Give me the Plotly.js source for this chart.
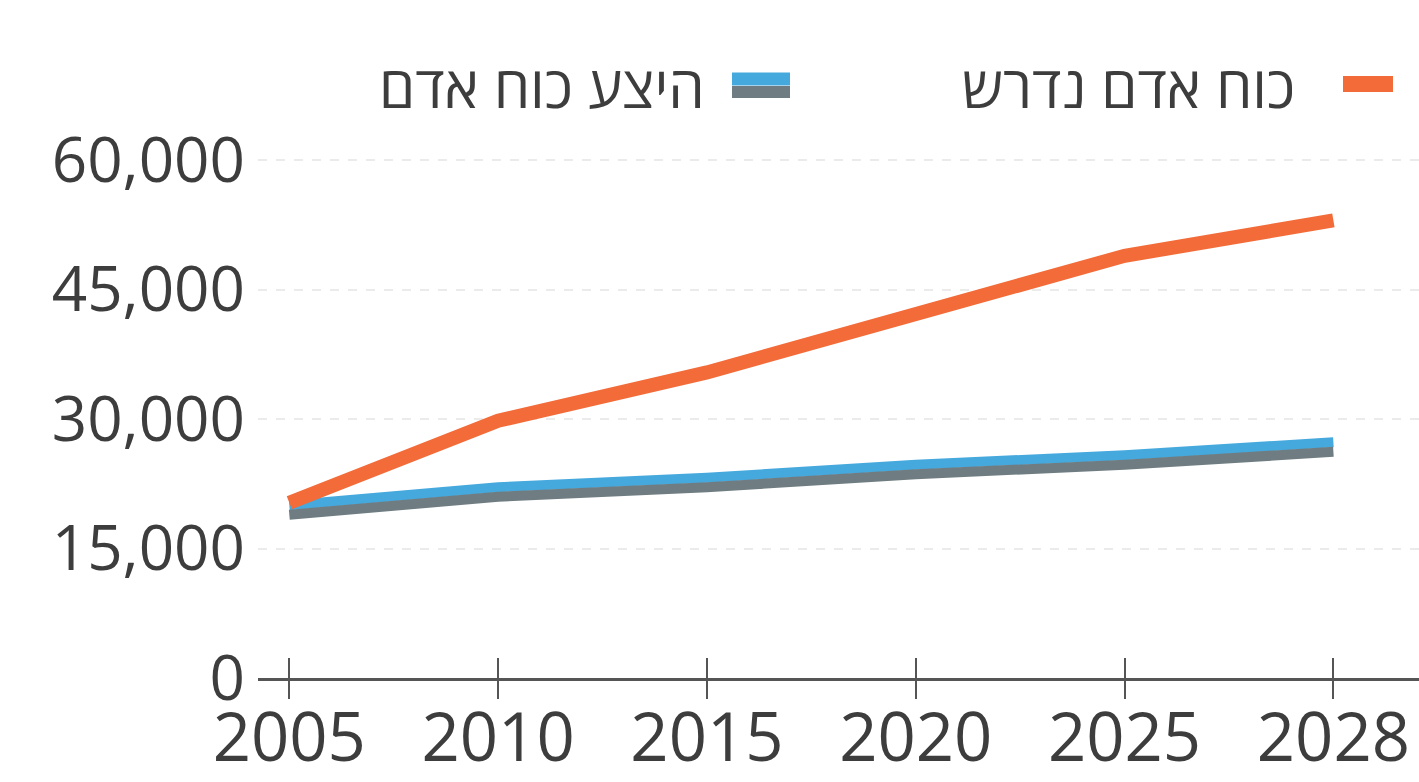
<!DOCTYPE html>
<html>
<head>
<meta charset="utf-8">
<script src="https://cdn.plot.ly/plotly-3.0.1.min.js"></script>
<style>html,body{margin:0;padding:0;background:#fff;}#chart{width:1419px;height:782px;}</style>
</head>
<body>
<div id="chart"></div>
<script>
var years = ['2005', '2010', '2015', '2020', '2025', '2028'];
var requiredManpower = [20300, 29800, 35400, 42300, 48900, 53000];
var manpowerSupply = [20000, 22100, 23200, 24700, 25800, 27300];
var yTicks = [0, 15000, 30000, 45000, 60000];
var yTickLabels = ['0', '15,000', '30,000', '45,000', '60,000'];
var nameRequired = 'כוח אדם נדרש';
var nameSupply = 'היצע כוח אדם';

var FONT = '"Open Sans", "Liberation Sans", "DejaVu Sans", sans-serif';
var TXT = '#3d3d3d';
var ORANGE = '#f26b38';
var BLUE = '#46a9de';
var GRAY = '#6f7d82';

var traces = [
  {x: years, y: manpowerSupply, name: nameSupply + ' (צל)', type: 'scatter', mode: 'lines',
   xaxis: 'x2', yaxis: 'y2', line: {color: GRAY, width: 10}, hoverinfo: 'skip'},
  {x: years, y: manpowerSupply, name: nameSupply, type: 'scatter', mode: 'lines',
   line: {color: BLUE, width: 10}},
  {x: years, y: requiredManpower, name: nameRequired, type: 'scatter', mode: 'lines',
   line: {color: ORANGE, width: 14}}
];

var W = 1419, L = 258, R = 0, T = 150, B = 104;
var pw = W - L - R, ph = 782 - T - B;
function px(x) { return (x - L) / pw; }
function py(y) { return (782 - B - y) / ph; }

var layout = {
  width: 1419, height: 782,
  margin: {l: L, r: R, t: T, b: B},
  paper_bgcolor: '#ffffff', plot_bgcolor: '#ffffff',
  showlegend: false,
  font: {family: FONT, color: TXT},
  xaxis: {
    type: 'category', categoryarray: years, categoryorder: 'array',
    range: [-0.15, 5.41], showgrid: false, zeroline: false,
    showline: true, linecolor: '#555', linewidth: 3,
    ticks: 'inside', ticklen: 20, tickwidth: 2, tickcolor: '#555',
    tickfont: {family: FONT, size: 67, color: TXT}, ticklabelstandoff: 0, fixedrange: true
  },
  xaxis2: {
    type: 'category', categoryarray: years, categoryorder: 'array',
    overlaying: 'x', anchor: 'y', range: [-0.15, 5.41], showgrid: false, zeroline: false,
    showline: false, ticks: 'outside', ticklen: 20, tickwidth: 2, tickcolor: '#555',
    showticklabels: false, side: 'bottom'
  },
  yaxis: {
    range: [0, 61160], tickvals: yTicks, ticktext: yTickLabels,
    showgrid: true, gridcolor: '#ebebeb', gridwidth: 2, griddash: 'dash',
    zeroline: false, showline: false, ticks: '',
    tickfont: {family: FONT, size: 62, color: TXT}, ticklabelstandoff: 12
  },
  yaxis2: {
    overlaying: 'y', range: [1100, 62260], visible: false
  },
  annotations: [
    {xref: 'paper', yref: 'paper', x: px(1297), y: py(85), xanchor: 'right', yanchor: 'middle',
     text: nameRequired, showarrow: false, font: {family: FONT, size: 58, color: TXT}},
    {xref: 'paper', yref: 'paper', x: px(707), y: py(85), xanchor: 'right', yanchor: 'middle',
     text: nameSupply, showarrow: false, font: {family: FONT, size: 58, color: TXT}}
  ],
  shapes: [
    {type: 'line', xref: 'paper', yref: 'paper', x0: px(1343), x1: px(1393), y0: py(84), y1: py(84),
     line: {color: ORANGE, width: 16}},
    {type: 'line', xref: 'paper', yref: 'paper', x0: px(732), x1: px(790), y0: py(92), y1: py(92),
     line: {color: GRAY, width: 12}},
    {type: 'line', xref: 'paper', yref: 'paper', x0: px(732), x1: px(790), y0: py(79), y1: py(79),
     line: {color: BLUE, width: 13}}
  ]
};

Plotly.newPlot('chart', traces, layout, {staticPlot: true, displayModeBar: false});
</script>
</body>
</html>
